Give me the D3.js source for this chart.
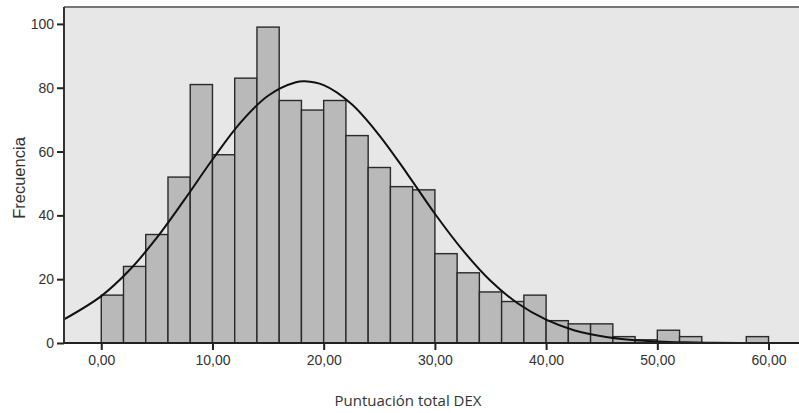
<!DOCTYPE html>
<html>
<head>
<meta charset="utf-8">
<script src="https://cdn.jsdelivr.net/npm/d3@7"></script>
<style>
  body { margin: 0; background: #fff; }
  text { fill: #333; }
</style>
</head>
<body>
<div id="chart"></div>
<script>
// histogram bins (lower edge, bin width 2) and counts
const binStarts = [0, 2, 4, 6, 8, 10, 12, 14, 16, 18, 20, 22, 24, 26, 28,
  30, 32, 34, 36, 38, 40, 42, 44, 46, 48, 50, 52, 54, 56, 58];
const counts = [15, 24, 34, 52, 81, 59, 83, 99, 76, 73, 76, 65, 55, 49, 48,
  28, 22, 16, 13, 15, 7, 6, 6, 2, 1, 4, 2, 0, 0, 2];
const binWidth = 2;

// normal curve
const curveX = [-3.35, 0, 2.5, 5, 7.5, 10, 12.5, 15, 17.5, 18.3, 20, 22.5, 25,
  27.5, 30, 32.5, 35, 37.5, 40, 42.5, 45, 47.5, 50, 52.5, 55, 57.5, 60, 62.7];
const curveY = [7.4, 14.7, 22.7, 33.0, 45.0, 57.5, 69.0, 77.5, 81.7, 82, 80.8,
  74.9, 65.1, 53.1, 40.5, 29.1, 19.5, 12.3, 7.3, 4.0, 2.1, 1.0, 0.47, 0.2,
  0.08, 0.03, 0.01, 0];

const xTicks = [0, 10, 20, 30, 40, 50, 60];
const yTicks = [0, 20, 40, 60, 80, 100];

const width = 799, height = 413;
const margin = { top: 7, right: 0, bottom: 70, left: 64 };

const svg = d3.select("#chart").append("svg")
  .attr("width", width)
  .attr("height", height);

const x = d3.scaleLinear().domain([-3.35, 62.74]).range([margin.left, width - margin.right]);
const y = d3.scaleLinear().domain([0, 105.3]).range([height - margin.bottom, margin.top]);

// plot background
svg.append("rect")
  .attr("x", margin.left)
  .attr("y", margin.top)
  .attr("width", width - margin.right - margin.left)
  .attr("height", y(0) - margin.top)
  .attr("fill", "#e7e7e7");

// top frame line
svg.append("line")
  .attr("x1", margin.left).attr("x2", width)
  .attr("y1", margin.top).attr("y2", margin.top)
  .attr("stroke", "#777").attr("stroke-width", 2);

// bars
svg.append("g")
  .selectAll("rect")
  .data(binStarts.map((b, i) => ({ b, c: counts[i] })).filter(d => d.c > 0))
  .join("rect")
  .attr("x", d => x(d.b))
  .attr("y", d => y(d.c))
  .attr("width", d => x(d.b + binWidth) - x(d.b))
  .attr("height", d => y(0) - y(d.c))
  .attr("fill", "#b9b9b9")
  .attr("stroke", "#2a2a2a")
  .attr("stroke-width", 1.4);

// fitted normal curve
const line = d3.line()
  .x(d => x(d[0]))
  .y(d => y(d[1]))
  .curve(d3.curveCatmullRom);

svg.append("path")
  .datum(curveX.map((v, i) => [v, curveY[i]]))
  .attr("d", line)
  .attr("fill", "none")
  .attr("stroke", "#111")
  .attr("stroke-width", 2);

// axes
const xAxis = d3.axisBottom(x)
  .tickValues(xTicks)
  .tickSize(7)
  .tickPadding(5)
  .tickFormat(d => d3.format(".2f")(d).replace(".", ","));

const yAxis = d3.axisLeft(y)
  .tickValues(yTicks)
  .tickSize(7)
  .tickPadding(3)
  .tickFormat(d3.format("d"));

const xAxisG = svg.append("g")
  .attr("transform", `translate(0,${y(0)})`)
  .call(xAxis);
xAxisG.select(".domain").remove();
xAxisG.append("line")
  .attr("x1", margin.left).attr("x2", width)
  .attr("stroke", "#222").attr("stroke-width", 2);

const yAxisG = svg.append("g")
  .attr("transform", `translate(${margin.left},0)`)
  .call(yAxis);
yAxisG.select(".domain")
  .attr("d", `M0,${margin.top}V${y(0)}`)
  .attr("stroke", "#333")
  .attr("stroke-width", 2);

svg.selectAll(".tick line").attr("stroke", "#222").attr("stroke-width", 2);
svg.selectAll(".tick text")
  .attr("fill", "#333")
  .style("font-family", "'Liberation Sans', Arial, sans-serif")
  .style("font-size", "14px");

// axis titles
svg.append("text")
  .attr("transform", `translate(25,${(margin.top + y(0)) / 2 + 3}) rotate(-90)`)
  .attr("text-anchor", "middle")
  .style("font-family", "'Liberation Sans', Arial, sans-serif")
  .style("font-size", "16.5px")
  .text("Frecuencia");

svg.append("text")
  .attr("x", 408)
  .attr("y", 406)
  .attr("text-anchor", "middle")
  .style("font-family", "'Open Sans', sans-serif")
  .style("font-size", "15px")
  .text("Puntuación total DEX");
</script>
</body>
</html>
